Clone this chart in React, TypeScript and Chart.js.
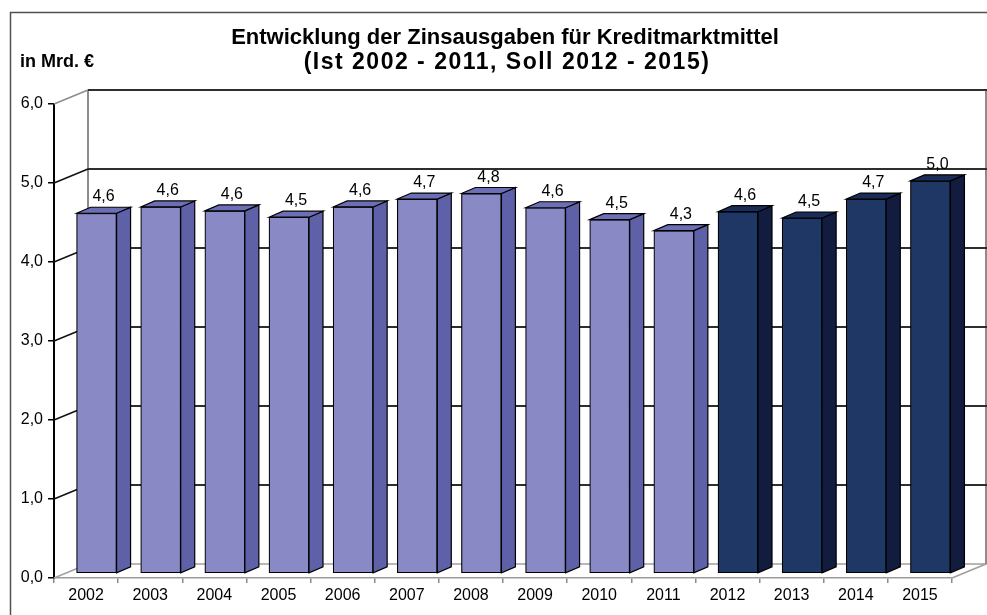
import React, { useEffect, useRef } from "react";
import { Chart, registerables } from "chart.js";

Chart.register(...registerables);

const years = ["2002", "2003", "2004", "2005", "2006", "2007", "2008", "2009", "2010", "2011", "2012", "2013", "2014", "2015"];
const values = [4.56, 4.64, 4.59, 4.51, 4.64, 4.74, 4.81, 4.63, 4.48, 4.34, 4.58, 4.5, 4.74, 4.97];
const phases = ["Ist", "Ist", "Ist", "Ist", "Ist", "Ist", "Ist", "Ist", "Ist", "Ist", "Soll", "Soll", "Soll", "Soll"];
const yTicks = [0, 1, 2, 3, 4, 5, 6];
const titleLines = ["Entwicklung der Zinsausgaben für Kreditmarktmittel", "(Ist 2002 - 2011, Soll 2012 - 2015)"];
const unitLabel = "in Mrd. €";

const palette: Record<string, { front: string; side: string; top: string }> = {
  Ist: { front: "#8989C6", side: "#5E60A8", top: "#6C6EB6" },
  Soll: { front: "#1F3764", side: "#111C3E", top: "#1A2D58" },
};

const FONT = '"Liberation Sans", Arial, Helvetica, sans-serif';
const WALL_DX = 34;
const WALL_DY = 14;
const BAR_SHIFT_X = 10.5;
const BAR_SHIFT_Y = 4.5;
const BAR_DEPTH_X = 14;
const BAR_DEPTH_Y = 6;

const fmt = (v: number) => v.toFixed(1).replace(".", ",");

const pseudo3d = {
  id: "pseudo3d",
  beforeDatasetsDraw(chart: any) {
    const { ctx, chartArea: a, scales } = chart;
    const ys = scales.y;
    ctx.save();
    // outer frame
    ctx.strokeStyle = "#505050";
    ctx.lineWidth = 1.5;
    ctx.beginPath();
    ctx.moveTo(10.5, chart.height + 5);
    ctx.lineTo(10.5, 12.5);
    ctx.lineTo(chart.width + 5, 12.5);
    ctx.stroke();

    // titles
    ctx.fillStyle = "#000";
    ctx.textAlign = "center";
    ctx.textBaseline = "middle";
    ctx.font = `bold 22px ${FONT}`;
    ctx.fillText(titleLines[0], 505, 38);
    ctx.font = `bold 23px ${FONT}`;
    (ctx as any).letterSpacing = "1.5px";
    ctx.fillText(titleLines[1], 507, 63);
    (ctx as any).letterSpacing = "0px";
    ctx.textAlign = "left";
    ctx.font = `bold 18px ${FONT}`;
    ctx.fillText(unitLabel, 20, 62);

    const L = a.left;
    const R = a.right;
    const bx = L + WALL_DX;
    const rx = R + WALL_DX;
    const y0 = ys.getPixelForValue(0);
    const yTop = ys.getPixelForValue(ys.max);

    // floor
    ctx.strokeStyle = "#a0a0a0";
    ctx.lineWidth = 1.5;
    ctx.beginPath();
    ctx.moveTo(L, y0);
    ctx.lineTo(bx, y0 - WALL_DY);
    ctx.lineTo(rx, y0 - WALL_DY);
    ctx.lineTo(R, y0);
    ctx.stroke();

    // back wall verticals
    ctx.strokeStyle = "#8c8c8c";
    ctx.lineWidth = 2;
    ctx.beginPath();
    ctx.moveTo(bx, yTop - WALL_DY);
    ctx.lineTo(bx, y0 - WALL_DY);
    ctx.moveTo(rx, yTop - WALL_DY);
    ctx.lineTo(rx, y0 - WALL_DY);
    ctx.stroke();

    // gridlines on back wall + side wall
    yTicks.forEach((v) => {
      if (v === 0) return;
      const py = ys.getPixelForValue(v);
      ctx.strokeStyle = "#2e2e2e";
      ctx.lineWidth = 2;
      ctx.beginPath();
      ctx.moveTo(bx, py - WALL_DY);
      ctx.lineTo(chart.width, py - WALL_DY);
      ctx.stroke();
      ctx.strokeStyle = v === ys.max ? "#8c8c8c" : "#111";
      ctx.lineWidth = 1.5;
      ctx.beginPath();
      ctx.moveTo(L, py);
      ctx.lineTo(bx, py - WALL_DY);
      ctx.stroke();
    });
    ctx.restore();

    ctx.save();
    ctx.translate(BAR_SHIFT_X, -BAR_SHIFT_Y);
  },
  afterDatasetsDraw(chart: any) {
    const { ctx } = chart;
    const meta = chart.getDatasetMeta(0);
    ctx.lineWidth = 1.2;
    ctx.strokeStyle = "#000";
    meta.data.forEach((bar: any, i: number) => {
      const { x, y, base, width } = bar.getProps(["x", "y", "base", "width"], true);
      const l = x - width / 2;
      const r = x + width / 2;
      const c = palette[phases[i]];
      ctx.beginPath();
      ctx.moveTo(r, y);
      ctx.lineTo(r + BAR_DEPTH_X, y - BAR_DEPTH_Y);
      ctx.lineTo(r + BAR_DEPTH_X, base - BAR_DEPTH_Y);
      ctx.lineTo(r, base);
      ctx.closePath();
      ctx.fillStyle = c.side;
      ctx.fill();
      ctx.stroke();
      ctx.beginPath();
      ctx.moveTo(l, y);
      ctx.lineTo(l + BAR_DEPTH_X, y - BAR_DEPTH_Y);
      ctx.lineTo(r + BAR_DEPTH_X, y - BAR_DEPTH_Y);
      ctx.lineTo(r, y);
      ctx.closePath();
      ctx.fillStyle = c.top;
      ctx.fill();
      ctx.stroke();
    });
    ctx.restore();

    ctx.save();
    ctx.fillStyle = "#000";
    ctx.font = `16px ${FONT}`;
    ctx.textAlign = "center";
    ctx.textBaseline = "alphabetic";
    meta.data.forEach((bar: any, i: number) => {
      const { x, y } = bar.getProps(["x", "y"], true);
      ctx.fillText(
        fmt(values[i]),
        x + BAR_SHIFT_X + BAR_DEPTH_X / 2,
        y - BAR_SHIFT_Y - BAR_DEPTH_Y - 6
      );
    });
    ctx.restore();
  },
};

export default function App() {
  const ref = useRef<HTMLCanvasElement | null>(null);
  useEffect(() => {
    if (!ref.current) return;
    const chart = new Chart(ref.current, {
      type: "bar",
      data: {
        labels: years,
        datasets: [
          {
            data: values,
            backgroundColor: phases.map((p) => palette[p].front),
            borderColor: "#000",
            borderWidth: 1.2,
            borderSkipped: false,
            barThickness: 40,
            clip: false as any,
          },
        ],
      },
      options: {
        responsive: false,
        animation: false,
        devicePixelRatio: 1,
        layout: { padding: { left: 0, right: 35, top: 104, bottom: 0 } },
        plugins: {
          legend: { display: false },
          tooltip: { enabled: false },
          title: { display: false },
        },
        scales: {
          x: {
            offset: true,
            afterFit: (s: any) => {
              s.height = 37;
            },
            grid: { drawOnChartArea: false, offset: true, tickLength: 5, color: "#8a8a8a", lineWidth: 1.5 },
            border: { color: "#9a9a9a", width: 1.5 },
            ticks: { font: { family: FONT, size: 16 }, color: "#000", padding: 3, maxRotation: 0 },
          },
          y: {
            min: 0,
            max: 6,
            afterFit: (s: any) => {
              s.width = 54;
            },
            grid: { drawOnChartArea: false, tickLength: 6, color: "#000", lineWidth: 1.5 },
            border: { color: "#000", width: 2 },
            ticks: {
              stepSize: 1,
              font: { family: FONT, size: 16 },
              color: "#000",
              padding: 5,
              callback: (v: any) => fmt(Number(v)),
            },
          },
        },
      },
      plugins: [pseudo3d],
    });
    return () => chart.destroy();
  }, []);
  return (
    <div style={{ position: "absolute", left: 0, top: 0, width: 987, height: 615, background: "#fff" }}>
      <canvas ref={ref} width={987} height={615} style={{ display: "block" }} />
    </div>
  );
}
